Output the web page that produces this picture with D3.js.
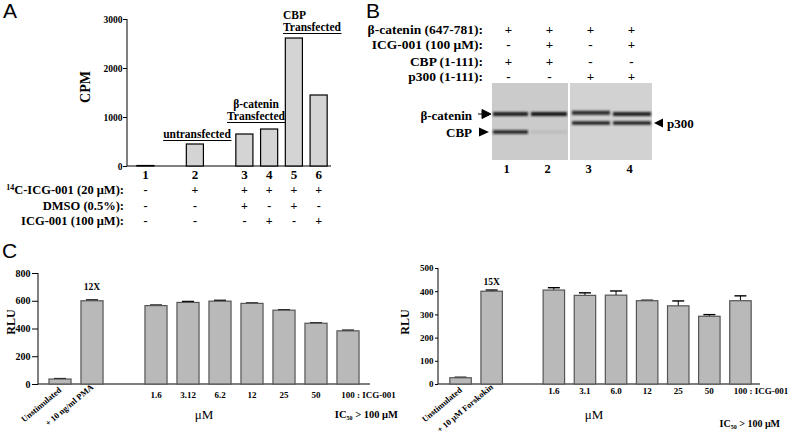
<!DOCTYPE html>
<html><head><meta charset="utf-8">
<script src="https://cdn.jsdelivr.net/npm/d3@7"></script>
<style>
body{margin:0;background:#fff;}
svg{display:block;}
text{font-family:"Liberation Serif","Times New Roman",serif;font-weight:bold;fill:#000;}
.letter{font-family:"Liberation Sans",Arial,sans-serif;font-weight:normal;font-size:21px;}
</style>
</head><body>
<svg id="c" width="792" height="438"></svg>
<script>
// ---------- Panel A data ----------
const aLanes = ["1","2","3","4","5","6"];
const aValues = [10, 449, 653, 755, 2612, 1449];
const aTicks = [0, 1000, 2000, 3000];
const aRowLabels = ["C-ICG-001 (20 \u03BCM):", "DMSO (0.5%):", "ICG-001 (100 \u03BCM):"];
const aSigns = [
  ["-","+","+","+","+","+"],
  ["-","-","+","-","+","-"],
  ["-","-","-","+","-","+"]
];
// ---------- Panel B data ----------
const bLanes = ["1","2","3","4"];
const bRowLabels = ["\u03B2-catenin (647-781):", "ICG-001 (100 \u03BCM):", "CBP (1-111):", "p300 (1-111):"];
const bSigns = [
  ["+","+","+","+"],
  ["-","+","-","+"],
  ["+","+","-","-"],
  ["-","-","+","+"]
];
const bBetaIntensity = [0.95, 1.0, 0.9, 0.95];
const bCbpIntensity = [0.9, 0.07, 0, 0];
const bP300Intensity = [0, 0, 0.95, 0.95];
// ---------- Panel C data ----------
const cLeftCats = ["Unstimulated", "+ 10 ng/ml PMA", "1.6", "3.12", "6.2", "12", "25", "50", "100"];
const cLeftValues = [36, 600, 565, 588, 597, 581, 532, 438, 383];
const cLeftErrors = [3, 6, 4, 7, 6, 3, 3, 3, 5];
const cLeftTicks = [0, 200, 400, 600, 800];
const cRightCats = ["Unstimulated", "+ 10 \u03BCM Forskokin", "1.6", "3.1", "6.0", "12", "25", "50", "100"];
const cRightValues = [27, 400, 405, 382, 383, 359, 337, 292, 359];
const cRightErrors = [2, 5, 10, 11, 18, 2, 21, 7, 21];
const cRightTicks = [0, 100, 200, 300, 400, 500];

const svg = d3.select("#c");

// ================= Panel A =================
(function(){
  const g = svg.append("g");
  g.append("text").attr("class","letter").attr("x",3).attr("y",18).text("A");
  const slots = ["1","g1","2","g2","3","4","5","6"];
  const x = d3.scaleBand().domain(slots).range([133, 331]).paddingInner(0.31).paddingOuter(0.155);
  const y = d3.scaleLinear().domain([0, 3000]).range([166, 19]);
  const axisX = 127;
  const ax = g.append("g").attr("transform",`translate(${axisX},0)`)
    .call(d3.axisLeft(y).tickValues(aTicks).tickSize(4).tickFormat(d3.format("d")));
  ax.select(".domain").attr("stroke","#000").attr("d",`M0,${y(0)}V${y(3000)}`);
  ax.selectAll(".tick line").attr("stroke","#000");
  ax.selectAll(".tick text").style("font-size","9.5px").attr("x",-4.5).style("font-family","Liberation Serif").style("font-weight","bold");
  g.append("line").attr("x1",axisX).attr("x2",331).attr("y1",y(0)).attr("y2",y(0)).attr("stroke","#000");
  g.selectAll("rect.bar").data(aLanes).join("rect").attr("class","bar")
    .attr("x", d => x(d)).attr("width", x.bandwidth())
    .attr("y", (d,i) => y(aValues[i])).attr("height", (d,i) => y(0) - y(aValues[i]))
    .attr("fill","#d4d4d4").attr("stroke","#000").attr("stroke-width",1.2);
  g.append("text").attr("transform","translate(90,87) rotate(-90)").attr("text-anchor","middle")
    .style("font-size","14px").text("CPM");
  // lane numbers
  g.selectAll("text.lane").data(aLanes).join("text").attr("class","lane")
    .attr("x", d => x(d) + x.bandwidth()/2).attr("y", 178.5).attr("text-anchor","middle")
    .style("font-size","13px").text(d => d);
  // rows
  const rowY = [194, 209.5, 225];
  aRowLabels.forEach((lab, r) => {
    const t = g.append("text").attr("x",124).attr("y",rowY[r]).attr("text-anchor","end").style("font-size","12.5px");
    if (r === 0) {
      t.append("tspan").style("font-size","8px").attr("dy",-4.5).text("14");
      t.append("tspan").attr("dy",4.5).text(lab);
    } else t.text(lab);
    g.selectAll(null).data(aLanes).join("text")
      .attr("x", d => x(d) + x.bandwidth()/2).attr("y", rowY[r]).attr("text-anchor","middle")
      .style("font-size", "12px")
      .text((d,i) => aSigns[r][i]);
  });
  // annotations
  function underlined(lines, ax0, anchor, y0, dy, size){
    lines.forEach((l,i) => {
      const t = g.append("text").attr("x",ax0).attr("y",y0 + i*dy).attr("text-anchor",anchor).style("font-size",size+"px").text(l);
      const bb = t.node().getBBox();
      if (i === lines.length-1) {
        g.append("line").attr("x1",bb.x).attr("x2",bb.x+bb.width).attr("y1",y0+i*dy+2.5).attr("y2",y0+i*dy+2.5)
          .attr("stroke","#000").attr("stroke-width",1);
      }
    });
  }
  underlined(["untransfected"], 197, "middle", 138, 0, 11.5);
  underlined(["\u03B2-catenin","Transfected"], 256, "middle", 108, 12, 11.5);
  underlined(["CBP","Transfected"], 283, "start", 19, 12, 11.5);
})();

// ================= Panel B =================
(function(){
  const g = svg.append("g");
  g.append("text").attr("class","letter").attr("x",366).attr("y",18).text("B");
  const x = d3.scaleBand().domain(bLanes).range([488, 652]);
  const rowY = [33.5, 48.5, 65.5, 80.5];
  bRowLabels.forEach((lab, r) => {
    g.append("text").attr("x",483).attr("y",rowY[r]).attr("text-anchor","end").style("font-size","13.5px").text(lab);
    g.selectAll(null).data(bLanes).join("text")
      .attr("x", d => x(d) + x.bandwidth()/2).attr("y", rowY[r]).attr("text-anchor","middle")
      .style("font-size", "13px").text((d,i) => bSigns[r][i]);
  });
  const defs = svg.append("defs");
  defs.append("filter").attr("id","blur").attr("x","-20%").attr("y","-200%").attr("width","140%").attr("height","500%")
    .append("feGaussianBlur").attr("stdDeviation","1.0 0.8");
  const top = 83, bottom = 160, left = 492, right = 652;
  const divX = x("3") - 2;
  g.append("rect").attr("x",left).attr("y",top).attr("width",divX-left).attr("height",bottom-top).attr("fill","#cbcbcb");
  g.append("rect").attr("x",divX+2).attr("y",top).attr("width",right-divX-2).attr("height",bottom-top).attr("fill","#d2d2d2");
  const bandY = {beta:114, p300:123, cbp:132};
  function bands(key, intens, yOff, h){
    g.selectAll(null).data(bLanes).join("rect")
      .attr("x", (d,i) => Math.max(left+1, x(d)+2)).attr("width", (d,i) => Math.min(x(d)+x.bandwidth(), i===1?divX:right) - Math.max(left+1, x(d)+2) - 1)
      .attr("y", (d,i) => bandY[key] - h/2 - (yOff ? yOff[i] : 0)).attr("height", h)
      .attr("fill","#151515").attr("opacity",(d,i)=>intens[i]).attr("filter","url(#blur)");
  }
  bands("beta", bBetaIntensity, [0,0,1.2,0], 4);
  bands("cbp", bCbpIntensity, null, 3.6);
  bands("p300", bP300Intensity, null, 3.4);
  // divider
  g.append("rect").attr("x",divX).attr("y",top).attr("width",2).attr("height",bottom-top).attr("fill","#fff");
  // lane numbers
  g.selectAll("text.ln").data(bLanes).join("text").attr("class","ln")
    .attr("x", d => x(d) + x.bandwidth()/2 - 2).attr("y",172.5).attr("text-anchor","middle").style("font-size","12.5px").text(d=>d);
  // labels with arrows
  g.append("text").attr("x",472).attr("y",119.5).attr("text-anchor","end").style("font-size","13px").text("\u03B2-catenin");
  g.append("path").attr("d",`M478,${bandY.beta}H483 M482,${bandY.beta-4.5}L491,${bandY.beta}L482,${bandY.beta+4.5}Z`).attr("fill","#000").attr("stroke","#000").attr("stroke-width",1);
  g.append("text").attr("x",472).attr("y",137).attr("text-anchor","end").style("font-size","13px").text("CBP");
  g.append("path").attr("d",`M479,${bandY.cbp-4.5}L489,${bandY.cbp}L479,${bandY.cbp+4.5}Z`).attr("fill","#000");
  g.append("path").attr("d",`M663,${bandY.p300-4.5}L654,${bandY.p300}L663,${bandY.p300+4.5}Z`).attr("fill","#000");
  g.append("text").attr("x",667).attr("y",bandY.p300+4.5).style("font-size","13px").text("p300");
})();

// ================= Panel C =================
function drawC(opt){
  const g = svg.append("g");
  const slots = [opt.cats[0], opt.cats[1], "gap"].concat(opt.cats.slice(2));
  const x = d3.scaleBand().domain(slots).range(opt.xr).paddingInner(0.31).paddingOuter(0.155);
  const y = d3.scaleLinear().domain([0, opt.max]).range([384, opt.top]);
  const ax = g.append("g").attr("transform",`translate(${opt.axisX},0)`)
    .call(d3.axisLeft(y).tickValues(opt.ticks).tickSize(opt.tickLen).tickFormat(d3.format("d")));
  ax.select(".domain").attr("stroke","#000").attr("d",`M0,${y(0)}V${y(opt.max)}`);
  ax.selectAll(".tick line").attr("stroke","#000");
  ax.selectAll(".tick text").style("font-size",opt.tickFont+"px").attr("x",-opt.tickLen-1.5).style("font-family","Liberation Serif").style("font-weight","bold");
  g.append("line").attr("x1",opt.axisX).attr("x2",opt.baseEnd).attr("y1",y(0)).attr("y2",y(0)).attr("stroke","#000").attr("stroke-width",1.2);
  const cx = d => x(d) + x.bandwidth()/2;
  // error bars
  g.selectAll("line.eb").data(opt.cats).join("line").attr("class","eb")
    .attr("x1",cx).attr("x2",cx).attr("y1",(d,i)=>y(opt.values[i])).attr("y2",(d,i)=>y(opt.values[i]+opt.errors[i]))
    .attr("stroke","#000").attr("stroke-width",1);
  g.selectAll("line.cap").data(opt.cats).join("line").attr("class","cap")
    .attr("x1",d=>cx(d)-6).attr("x2",d=>cx(d)+6).attr("y1",(d,i)=>y(opt.values[i]+opt.errors[i])).attr("y2",(d,i)=>y(opt.values[i]+opt.errors[i]))
    .attr("stroke","#000").attr("stroke-width",1.4);
  g.selectAll("rect.bar").data(opt.cats).join("rect").attr("class","bar")
    .attr("x", d => x(d)).attr("width", x.bandwidth())
    .attr("y", (d,i) => y(opt.values[i])).attr("height", (d,i) => y(0) - y(opt.values[i]))
    .attr("fill","#b9b9b9").attr("stroke","#555").attr("stroke-width",1.2);
  // rotated labels
  opt.cats.slice(0,2).forEach((c,i) => {
    g.append("text").attr("transform",`translate(${cx(c)+2},${i===0?391:388}) rotate(-40)`).attr("text-anchor","end")
      .style("font-size","8.5px").text(c);
  });
  // numeric labels
  opt.cats.slice(2).forEach((c,i) => {
    const t = g.append("text").attr("x",cx(c)).attr("y",opt.labY).attr("text-anchor","middle").style("font-size","9px").text(c);
    if (i === opt.cats.length-3) {
      const w = t.node().getComputedTextLength();
      t.attr("text-anchor","start").attr("x",cx(c)-w/2).append("tspan").text(" : ICG-001");
    }
  });
  g.append("text").attr("x",cx(opt.cats[1])).attr("y",opt.foldY).attr("text-anchor","middle").style("font-size","9.5px").text(opt.fold);
  g.append("text").attr("x",opt.umX).attr("y",418.5).attr("text-anchor","middle").style("font-size","13px").style("font-weight","normal").text("\u03BCM");
  const ic = g.append("text").attr("x",opt.icX).attr("y",opt.icY).attr("text-anchor","end").style("font-size",opt.icFont+"px");
  ic.append("tspan").text("IC");
  ic.append("tspan").style("font-size","6px").attr("dy",2).text("50");
  ic.append("tspan").attr("dy",-2).text(" > 100 \u03BCM");
  g.append("text").attr("transform",`translate(${opt.rluX},322) rotate(-90)`).attr("text-anchor","middle").style("font-size","12px").text("RLU");
}
svg.append("text").attr("class","letter").attr("x",2).attr("y",258).text("C");
drawC({cats:cLeftCats, values:cLeftValues, errors:cLeftErrors, ticks:cLeftTicks, max:800, top:273, tickLen:6,
  xr:[44,364], axisX:38, baseEnd:370, tickFont:10, labY:398, fold:"12X", foldY:290, umX:204, icX:398, icY:418, icFont:10.5, rluX:15});
drawC({cats:cRightCats, values:cRightValues, errors:cRightErrors, ticks:cRightTicks, max:500, top:268, tickLen:3,
  xr:[445,756], axisX:438, baseEnd:760, tickFont:9, labY:394, fold:"15X", foldY:285, umX:594, icX:780, icY:427, icFont:10, rluX:409});
</script>
</body></html>
